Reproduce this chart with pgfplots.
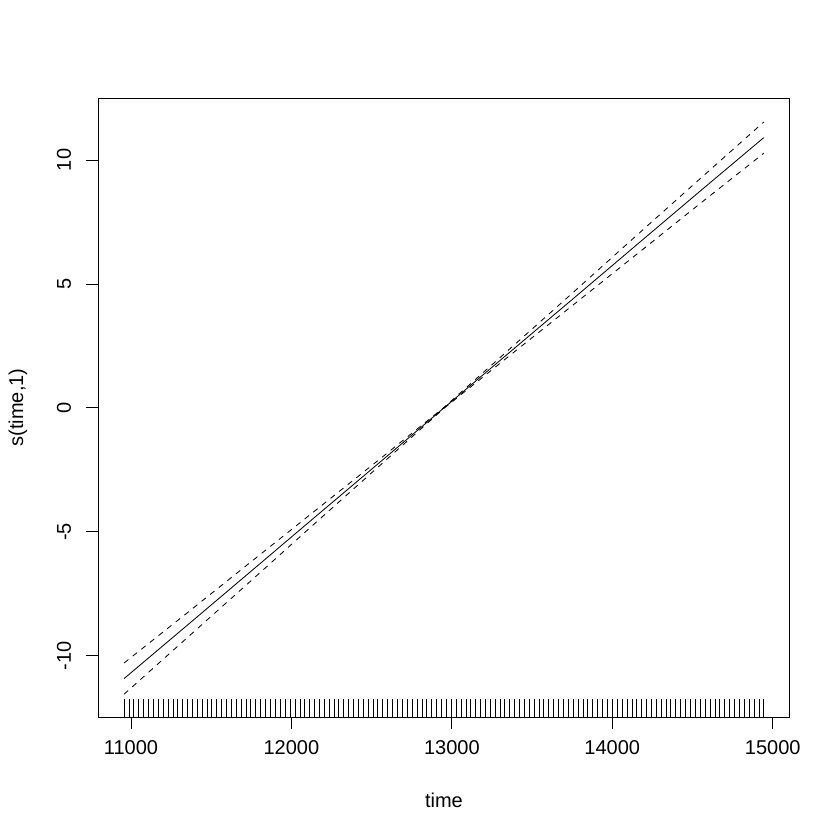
\documentclass[border=0pt]{standalone}
\usepackage{pgfplots}
\pgfplotsset{compat=1.18}
\usepackage{fontspec}
\setmainfont{Liberation Sans}
\begin{document}
\fontsize{12}{14}\selectfont
\begin{tikzpicture}
\useasboundingbox (-59.1pt,-73.8pt) rectangle (444.9pt,430.2pt);
\begin{axis}[
  at={(0,0)}, anchor=south west,
  scale only axis, width=414.5pt, height=371.4pt,
  xmin=10797.5, xmax=15103.5, ymin=-12.47, ymax=12.5,
  axis line style={line width=0.5pt},
  xtick={11000,12000,13000,14000,15000},
  ytick={-10,-5,0,5,10},
  xtick pos=bottom, ytick pos=left,
  tick align=outside, major tick length=7.2pt,
  tick style={line width=0.5pt, black},
  /pgf/number format/assume math mode=true,
  scaled x ticks=false,
  xticklabel style={/pgf/number format/1000 sep={}, anchor=north, inner sep=0pt},
  xticklabel shift=6.5pt,
  yticklabel style={rotate=90, anchor=south, inner sep=0pt},
  yticklabel shift=9pt,
  xlabel={time}, ylabel={s(time,1)},
  xlabel style={at={(axis description cs:0.5,-0.1341)}, anchor=center, inner sep=0pt},
  ylabel style={at={(axis description cs:-0.1165,0.5)}, anchor=center, inner sep=0pt},
  clip=false,
]
\addplot[black, line width=0.5pt] coordinates {
(10957,-10.92) (11356,-8.74) (11754,-6.56) (12153,-4.37) (12552,-2.19) (12951,0.00)
(13349,2.18) (13748,4.36) (14147,6.55) (14545,8.73) (14944,10.90)};
\addplot[black, line width=0.5pt, dash pattern=on 3.3pt off 3.3pt] coordinates {
(10957,-10.29) (11356,-8.24) (11754,-6.18) (12153,-4.12) (12552,-2.06) (12951,0.02)
(13349,2.31) (13748,4.61) (14147,6.93) (14545,9.23) (14944,11.53)};
\addplot[black, line width=0.5pt, dash pattern=on 3.3pt off 3.3pt] coordinates {
(10957,-11.55) (11356,-9.24) (11754,-6.94) (12153,-4.62) (12552,-2.32) (12951,-0.02)
(13349,2.05) (13748,4.11) (14147,6.17) (14545,8.23) (14944,10.27)};
\addplot[black, only marks, mark=|, mark size=5.4pt, mark options={line width=0.5pt}] coordinates {
(10957,-12.1) (10988,-12.1) (11017,-12.1) (11048,-12.1) (11078,-12.1) (11109,-12.1) (11139,-12.1) (11170,-12.1) (11201,-12.1) (11231,-12.1) (11262,-12.1) (11292,-12.1)
(11323,-12.1) (11354,-12.1) (11382,-12.1) (11413,-12.1) (11443,-12.1) (11474,-12.1) (11504,-12.1) (11535,-12.1) (11566,-12.1) (11596,-12.1) (11627,-12.1) (11657,-12.1)
(11688,-12.1) (11719,-12.1) (11747,-12.1) (11778,-12.1) (11808,-12.1) (11839,-12.1) (11869,-12.1) (11900,-12.1) (11931,-12.1) (11961,-12.1) (11992,-12.1) (12022,-12.1)
(12053,-12.1) (12084,-12.1) (12112,-12.1) (12143,-12.1) (12173,-12.1) (12204,-12.1) (12234,-12.1) (12265,-12.1) (12296,-12.1) (12326,-12.1) (12357,-12.1) (12387,-12.1)
(12418,-12.1) (12449,-12.1) (12478,-12.1) (12509,-12.1) (12539,-12.1) (12570,-12.1) (12600,-12.1) (12631,-12.1) (12662,-12.1) (12692,-12.1) (12723,-12.1) (12753,-12.1)
(12784,-12.1) (12815,-12.1) (12843,-12.1) (12874,-12.1) (12904,-12.1) (12935,-12.1) (12965,-12.1) (12996,-12.1) (13027,-12.1) (13057,-12.1) (13088,-12.1) (13118,-12.1)
(13149,-12.1) (13180,-12.1) (13208,-12.1) (13239,-12.1) (13269,-12.1) (13300,-12.1) (13330,-12.1) (13361,-12.1) (13392,-12.1) (13422,-12.1) (13453,-12.1) (13483,-12.1)
(13514,-12.1) (13545,-12.1) (13573,-12.1) (13604,-12.1) (13634,-12.1) (13665,-12.1) (13695,-12.1) (13726,-12.1) (13757,-12.1) (13787,-12.1) (13818,-12.1) (13848,-12.1)
(13879,-12.1) (13910,-12.1) (13939,-12.1) (13970,-12.1) (14000,-12.1) (14031,-12.1) (14061,-12.1) (14092,-12.1) (14123,-12.1) (14153,-12.1) (14184,-12.1) (14214,-12.1)
(14245,-12.1) (14276,-12.1) (14304,-12.1) (14335,-12.1) (14365,-12.1) (14396,-12.1) (14426,-12.1) (14457,-12.1) (14488,-12.1) (14518,-12.1) (14549,-12.1) (14579,-12.1)
(14610,-12.1) (14641,-12.1) (14669,-12.1) (14700,-12.1) (14730,-12.1) (14761,-12.1) (14791,-12.1) (14822,-12.1) (14853,-12.1) (14883,-12.1) (14914,-12.1) (14944,-12.1)};
\end{axis}
\end{tikzpicture}
\end{document}
